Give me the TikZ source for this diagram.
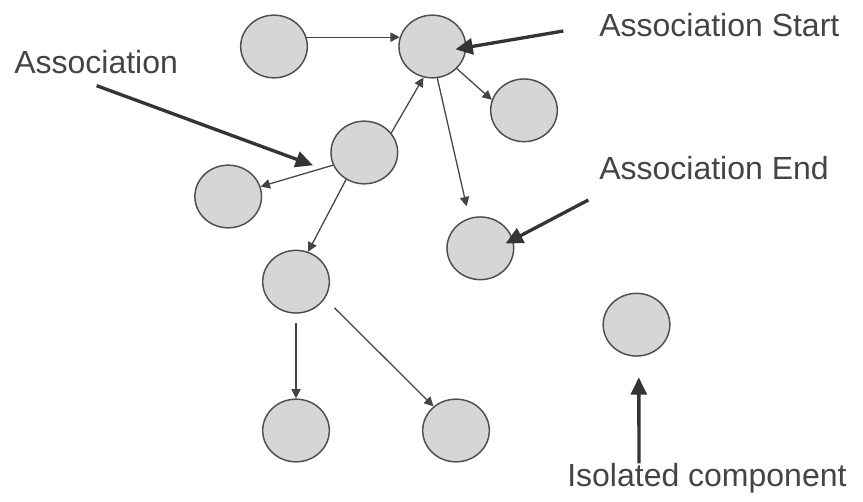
\documentclass[tikz,border=0pt]{standalone}
\usepackage{fontspec}
\setmainfont{Liberation Sans}
\usetikzlibrary{arrows.meta,shapes.geometric}
\definecolor{ringgray}{RGB}{78,78,78}
\definecolor{discgray}{RGB}{214,214,214}
\definecolor{inkgray}{RGB}{68,68,68}
\definecolor{pointgray}{RGB}{52,52,52}

\begin{document}
\begin{tikzpicture}[x=0.75pt,y=0.75pt,yscale=-1,
	comp/.style={ellipse,draw=ringgray,line width=1.1pt,fill=discgray,minimum width=50pt,minimum height=47pt,inner sep=0pt},
	assoc/.style={draw=inkgray,line width=0.95pt,-{Triangle[length=7pt,width=7pt]}},
	pointer/.style={draw=pointgray,line width=2.5pt,-{Triangle[length=13pt,width=12pt]}},
	caption/.style={anchor=base west,inner sep=0pt,text=inkgray,font=\fontsize{24}{28}\selectfont}]
	\useasboundingbox (0,0) rectangle (863,502);
	\node[comp] (src) at (274,46.5) {};
	\node[comp] (hub) at (432.3,46.5) {};
	\node[comp] (leafR) at (524,110.3) {};
	\node[comp] (mid) at (364.3,152.5) {};
	\node[comp] (leafL) at (228.2,196.5) {};
	\node[comp] (endc) at (480.3,248.3) {};
	\node[comp] (branch) at (296,281.7) {};
	\node[comp] (low1) at (296,430.5) {};
	\node[comp] (low2) at (456,430.5) {};
	\node[comp] (iso) at (636.5,324.7) {};
	\draw[assoc] (src.16) -- (hub.164);
	\draw[assoc] (hub.-42) -- (leafR.162);
	\draw[assoc] (mid.36) -- (hub.-106);
	\draw[assoc,shorten >=9pt] (hub.-81) -- (endc.110);
	\draw[assoc] (mid.202) -- (leafL.17);
	\draw[assoc] (mid.236) -- (branch.68);
	\draw[assoc,shorten <=7pt] (branch.south) -- (low1.north);
	\draw[assoc,shorten <=10pt] (branch.-30) -- (low2.133);
	\node[caption] (capAssoc) at (14,73.3) {Association};
	\node[caption] (capStart) at (599,36.7) {Association Start};
	\node[caption] (capEnd) at (599,179.3) {Association End};
	\node[caption] (capIso) at (567,486.7) {Isolated component};
	\coordinate (tailAssoc) at (96.7,85.7);
	\coordinate (tailStart) at (563.3,31);
	\coordinate (tailEnd) at (588.3,200);
	\coordinate (tailIso) at (639,463.3);
	\draw[pointer,shorten >=22pt] (tailAssoc) -- (mid.224);
	\draw[pointer,shorten >=41.6pt] (tailStart) -- (hub.201);
	\draw[pointer,shorten >=42.6pt] (tailEnd) -- (endc.221);
	\draw[pointer,shorten >=15.5pt] (tailIso) -- (iso.-86);
\end{tikzpicture}
\end{document}
